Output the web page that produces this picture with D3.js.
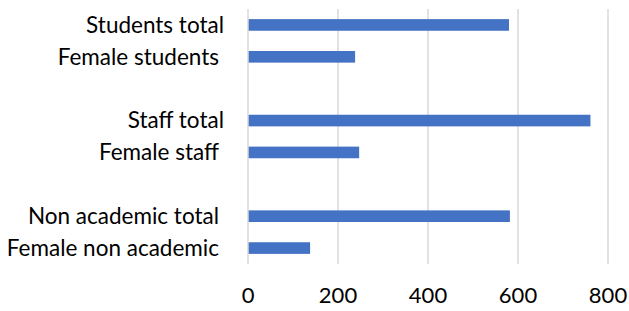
<!DOCTYPE html>
<html>
<head>
<meta charset="utf-8">
<script src="https://cdn.jsdelivr.net/npm/d3@7"></script>
<style>
  body { margin: 0; background: #fff; }
  text { font-family: Lato, "Open Sans", sans-serif; fill: #000; }
</style>
</head>
<body>
<div id="chart"></div>
<script>
// categories top to bottom, blank slots are the gaps between groups
const categories = ["Students total", "Female students", "gap1", "Staff total", "Female staff", "gap2", "Non academic total", "Female non academic"];
const values = [580, 238, null, 761, 247, null, 582, 138];
const xTicks = [0, 200, 400, 600, 800];

const margin = {top: 9, right: 21, bottom: 47, left: 248},
    width = 629 - margin.left - margin.right,
    height = 311 - margin.top - margin.bottom;

let svg = d3.select("#chart")
    .append("svg")
    .attr("width", 629)
    .attr("height", 311)
  .append("g")
    .attr("transform", `translate(${margin.left}, ${margin.top})`);

const x = d3.scaleLinear()
  .domain([0, 800])
  .range([0, 360]);

const y = d3.scaleBand()
  .domain(categories)
  .range([0, height])
  .paddingInner(0.635)
  .paddingOuter(0.3175);

// vertical gridlines
svg.append("g")
  .selectAll("line")
  .data(xTicks.slice(1))
  .enter()
  .append("line")
    .attr("x1", d => x(d))
    .attr("x2", d => x(d))
    .attr("y1", 0)
    .attr("y2", height)
    .attr("stroke", "#d9d9d9")
    .attr("stroke-width", 1.5);

// bars
const rows = categories.map((c, i) => ({cat: c, value: values[i]})).filter(d => d.value !== null);
svg.append("g")
  .selectAll("rect")
  .data(rows)
  .enter()
  .append("rect")
    .attr("x", x(0))
    .attr("y", d => y(d.cat))
    .attr("width", d => x(d.value) - x(0))
    .attr("height", y.bandwidth())
    .attr("fill", "#4472c4");

// category axis line
svg.append("line")
  .attr("x1", 0).attr("x2", 0)
  .attr("y1", 0).attr("y2", height)
  .attr("stroke", "#d9d9d9")
  .attr("stroke-width", 1.5);

// category labels (some labels end with a space in the source, so sit further left)
svg.append("g")
  .selectAll("text")
  .data(rows)
  .enter()
  .append("text")
    .attr("x", d => (d.cat === "Students total" || d.cat === "Staff total") ? -24 : -29)
    .attr("y", d => y(d.cat) + y.bandwidth() / 2)
    .attr("dy", "0.35em")
    .attr("text-anchor", "end")
    .style("font-size", "22.5px")
    .text(d => d.cat);

// value axis labels
svg.append("g")
  .attr("transform", `translate(0, ${height})`)
  .selectAll("text")
  .data(xTicks)
  .enter()
  .append("text")
    .attr("x", d => x(d))
    .attr("y", 31)
    .attr("dy", "0.35em")
    .attr("text-anchor", "middle")
    .style("font-size", "22px")
    .text(d => d);
</script>
</body>
</html>
